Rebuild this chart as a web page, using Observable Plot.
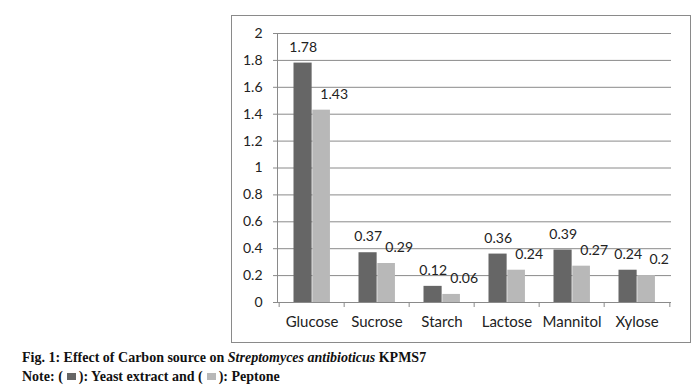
<!DOCTYPE html>
<html>
<head>
<meta charset="utf-8">
<script src="https://cdn.jsdelivr.net/npm/d3@7"></script>
<script src="https://cdn.jsdelivr.net/npm/@observablehq/plot@0.6"></script>
<style>
  html, body { margin: 0; padding: 0; background: #fff; }
  #wrap { position: relative; width: 697px; height: 385px; overflow: hidden; }
  #box { position: absolute; left: 231px; top: 15px; width: 458px; height: 326px; border: 1px solid #8a8a8a; }
  #chart { position: absolute; left: 0; top: 0; }
  #cap { position: absolute; left: 22px; top: 348px; font-family: "Liberation Serif", "DejaVu Serif", serif; font-weight: bold; font-size: 14px; line-height: 19px; color: #111; white-space: nowrap; }
  .sq { display: inline-block; width: 9px; height: 7px; margin: 0 3px 1px 4px; }
</style>
</head>
<body>
<div id="wrap">
  <div id="box"></div>
  <div id="chart"></div>
  <div id="cap">
    Fig. 1: Effect of Carbon source on <i>Streptomyces antibioticus</i> KPMS7<br>
    Note: (<span class="sq" style="background:#666666"></span>): Yeast extract and (<span class="sq" style="background:#b8b8b8"></span>): Peptone
  </div>
</div>
<script>
const categories = ["Glucose", "Sucrose", "Starch", "Lactose", "Mannitol", "Xylose"];
const yeastExtract = [1.78, 0.37, 0.12, 0.36, 0.39, 0.24];
const peptone = [1.43, 0.29, 0.06, 0.24, 0.27, 0.2];
const yTicks = [0, 0.2, 0.4, 0.6, 0.8, 1, 1.2, 1.4, 1.6, 1.8, 2];

const data = categories.map((c, i) => ({category: c, yeast: yeastExtract[i], peptone: peptone[i]}));

const W = 697, H = 345, ML = 277, MR = 26, MT = 33, MB = 43;
const step = (W - ML - MR) / categories.length;
const gray = "#8a8a8a";
const fmt = d => String(+(+d).toFixed(2));

const chart = Plot.plot({
  width: W, height: H,
  marginLeft: ML, marginRight: MR, marginTop: MT, marginBottom: MB,
  style: {fontFamily: "Lato, 'Noto Sans', sans-serif", fontSize: "14px", color: "#222", overflow: "visible", background: "transparent"},
  x: {domain: categories, padding: 0, label: null},
  y: {domain: [0, 2], label: null},
  marks: [
    Plot.ruleY(yTicks, {stroke: gray, strokeWidth: 1}),
    Plot.frame({anchor: "left", stroke: gray}),
    Plot.barY(data, {x: "category", y: "yeast", fill: "#666666", insetLeft: 14.5, insetRight: step - 33.3}),
    Plot.barY(data, {x: "category", y: "peptone", fill: "#b8b8b8", insetLeft: 33.3, insetRight: step - 51.6}),
    Plot.text(data, {x: "category", y: "yeast", text: d => fmt(d.yeast), dx: 24 - step / 2, dy: -16, fill: "#222", fontSize: 14}),
    Plot.text(data, {x: "category", y: "peptone", text: d => fmt(d.peptone), dx: 55 - step / 2, dy: -16, fill: "#222", fontSize: 14}),
    Plot.axisY(yTicks, {tickSize: 4, tickPadding: 11, tickFormat: fmt, stroke: gray, fill: "#222", fontSize: 14}),
    Plot.axisX({tickSize: 0, tickPadding: 14, fill: "#222", fontSize: 15}),
    Plot.axisX({tickSize: 5, tickFormat: () => "", dx: -step / 2, stroke: gray}),
    Plot.axisX([categories[categories.length - 1]], {tickSize: 5, tickFormat: () => "", dx: step / 2, stroke: gray})
  ]
});
document.getElementById("chart").appendChild(chart);
</script>
</body>
</html>
